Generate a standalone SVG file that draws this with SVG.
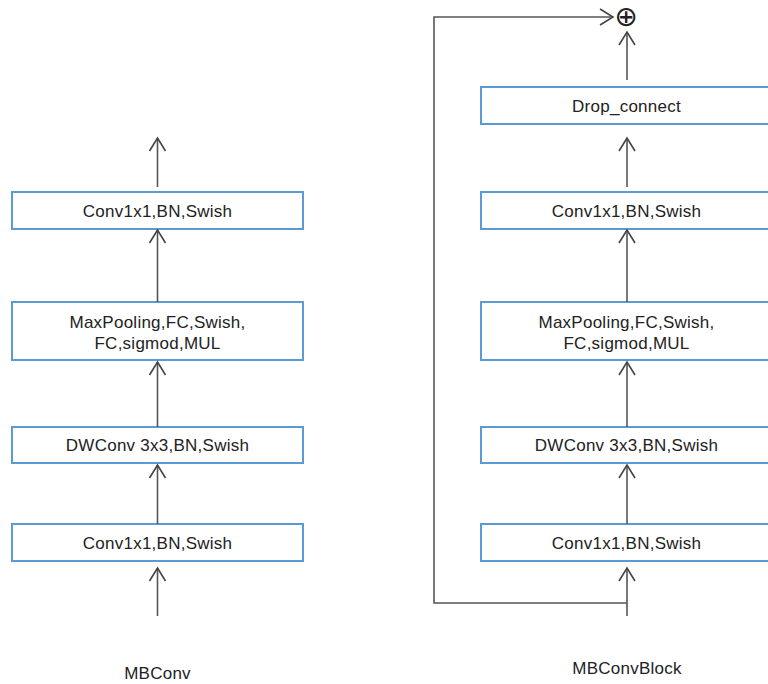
<svg xmlns="http://www.w3.org/2000/svg" width="768" height="684" viewBox="0 0 768 684">
  <style>
    .box { fill: #ffffff; stroke: #5b9bd5; stroke-width: 2; }
    .lbl { font-family: "Liberation Sans", Arial, sans-serif; font-size: 17px; letter-spacing: 0.25px; fill: #222222; text-anchor: middle; }
    .title { font-family: "Liberation Sans", Arial, sans-serif; font-size: 17px; letter-spacing: 0.25px; fill: #222222; text-anchor: middle; }
    .edge { fill: none; stroke: #555555; stroke-width: 1.6; }
  </style>
  <defs>
    <marker id="open" markerUnits="userSpaceOnUse" markerWidth="16" markerHeight="20" viewBox="-1 -2 16 20" refX="13" refY="8" orient="auto">
      <path d="M0,0 L13,8 L0,16" fill="none" stroke="#444444" stroke-width="1.6"/>
    </marker>
  </defs>
  <rect width="768" height="684" fill="#ffffff"/>

  <!-- MBConv (left column) -->
  <g id="l-conv-out">
    <rect class="box" x="12" y="192" width="291" height="37"/>
    <text class="lbl" x="157.5" y="216.5">Conv1x1,BN,Swish</text>
  </g>
  <g id="l-se">
    <rect class="box" x="12" y="302" width="291" height="58"/>
    <text class="lbl" x="157.5" y="327.5">MaxPooling,FC,Swish,</text>
    <text class="lbl" x="157.5" y="348.5">FC,sigmod,MUL</text>
  </g>
  <g id="l-dwconv">
    <rect class="box" x="12" y="427" width="291" height="36"/>
    <text class="lbl" x="157.5" y="451">DWConv 3x3,BN,Swish</text>
  </g>
  <g id="l-conv-in">
    <rect class="box" x="12" y="524" width="291" height="37"/>
    <text class="lbl" x="157.5" y="548.5">Conv1x1,BN,Swish</text>
  </g>
  <text id="l-title" class="title" x="157.5" y="679">MBConv</text>

  <!-- MBConvBlock (right column) -->
  <g id="r-add">
    <text x="626" y="16" font-family="DejaVu Sans, sans-serif" font-size="28" fill="#222222" text-anchor="middle" dominant-baseline="central">⊕</text>
  </g>
  <g id="r-drop">
    <rect class="box" x="481" y="87" width="291" height="37"/>
    <text class="lbl" x="626.5" y="111.5">Drop_connect</text>
  </g>
  <g id="r-conv-out">
    <rect class="box" x="481" y="192" width="291" height="37"/>
    <text class="lbl" x="626.5" y="216.5">Conv1x1,BN,Swish</text>
  </g>
  <g id="r-se">
    <rect class="box" x="481" y="302" width="291" height="58"/>
    <text class="lbl" x="626.5" y="327.5">MaxPooling,FC,Swish,</text>
    <text class="lbl" x="626.5" y="348.5">FC,sigmod,MUL</text>
  </g>
  <g id="r-dwconv">
    <rect class="box" x="481" y="427" width="291" height="36"/>
    <text class="lbl" x="626.5" y="451">DWConv 3x3,BN,Swish</text>
  </g>
  <g id="r-conv-in">
    <rect class="box" x="481" y="524" width="291" height="37"/>
    <text class="lbl" x="626.5" y="548.5">Conv1x1,BN,Swish</text>
  </g>
  <text id="r-title" class="title" x="627" y="674">MBConvBlock</text>

  <!-- connectors -->
  <g id="connectors">
    <line class="edge" x1="157.5" y1="187" x2="157.5" y2="138" marker-end="url(#open)"/>
    <line class="edge" x1="157.5" y1="302" x2="157.5" y2="230" marker-end="url(#open)"/>
    <line class="edge" x1="157.5" y1="427" x2="157.5" y2="362" marker-end="url(#open)"/>
    <line class="edge" x1="157.5" y1="524" x2="157.5" y2="465" marker-end="url(#open)"/>
    <line class="edge" x1="157.5" y1="616" x2="157.5" y2="568" marker-end="url(#open)"/>

    <line class="edge" x1="627" y1="80" x2="627" y2="32" marker-end="url(#open)"/>
    <line class="edge" x1="627" y1="187" x2="627" y2="138" marker-end="url(#open)"/>
    <line class="edge" x1="627" y1="302" x2="627" y2="230" marker-end="url(#open)"/>
    <line class="edge" x1="627" y1="427" x2="627" y2="362" marker-end="url(#open)"/>
    <line class="edge" x1="627" y1="524" x2="627" y2="465" marker-end="url(#open)"/>
    <line class="edge" x1="627" y1="616" x2="627" y2="568" marker-end="url(#open)"/>
    <polyline class="edge" points="627,603 434,603 434,17 613,17" marker-end="url(#open)"/>
  </g>
</svg>
